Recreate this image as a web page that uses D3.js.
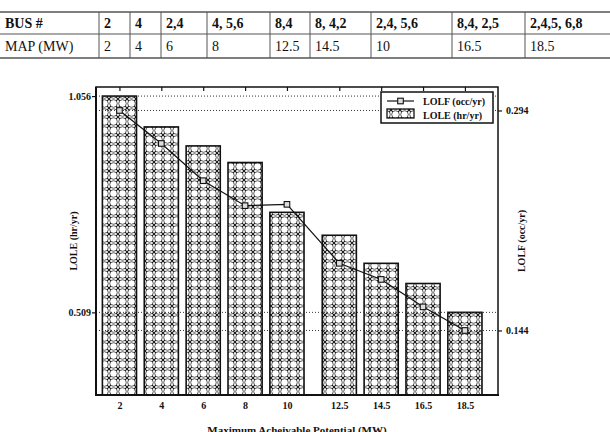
<!DOCTYPE html>
<meta charset="utf-8">
<style>
    html, body {
        margin: 0;
        background: white;
    }
    svg text {
        font-family: "Liberation Serif", "Times New Roman", serif;
    }
</style>
<div id="container"></div>
<script src="https://cdnjs.cloudflare.com/ajax/libs/d3/7.8.5/d3.min.js"></script>
<script>
    // table rows
    var busRow = ["BUS #", "2", "4", "2,4", "4, 5,6", "8,4", "8, 4,2", "2,4, 5,6", "8,4, 2,5", "2,4,5, 6,8"];
    var mapRow = ["MAP (MW)", "2", "4", "6", "8", "12.5", "14.5", "10", "16.5", "18.5"];

    // chart data
    var potential = [2, 4, 6, 8, 10, 12.5, 14.5, 16.5, 18.5];
    var lole = [1.056, 0.978, 0.930, 0.888, 0.762, 0.704, 0.633, 0.582, 0.509];
    var lolf = [0.294, 0.2715, 0.2461, 0.2291, 0.2300, 0.1898, 0.1788, 0.1601, 0.144];
    var loleTicks = [0.509, 1.056];
    var lolfTicks = [0.144, 0.294];

    var W = 610, H = 432;
    var svg = d3.select("#container").append("svg")
        .attr("width", W)
        .attr("height", H);

    // ---- table ----
    var colEdges = [0, 99, 130, 161, 207, 270, 310, 371, 452, 525, 610];
    var rowY = [12, 34, 58];
    var table = svg.append("g");

    table.selectAll("line.h")
        .data(rowY)
        .enter().append("line")
        .attr("x1", 0).attr("x2", W)
        .attr("y1", function(d) { return d; })
        .attr("y2", function(d) { return d; })
        .attr("stroke", "#555")
        .attr("stroke-width", function(d, i) { return i === 1 ? 1 : 1.6; });

    table.selectAll("line.v")
        .data(colEdges.slice(1, -1))
        .enter().append("line")
        .attr("x1", function(d) { return d; })
        .attr("x2", function(d) { return d; })
        .attr("y1", rowY[0]).attr("y2", rowY[2])
        .attr("stroke", "#555")
        .attr("stroke-width", 1);

    function cellText(row, y, bold) {
        table.selectAll(null)
            .data(row)
            .enter().append("text")
            .attr("x", function(d, i) { return colEdges[i] + 5; })
            .attr("y", y)
            .attr("font-size", 14)
            .attr("font-weight", bold ? "bold" : "normal")
            .attr("fill", "#111")
            .text(function(d) { return d; });
    }
    cellText(busRow, 28, true);
    cellText(mapRow, 51, false);

    // ---- chart ----
    var plotL = 96, plotR = 498, plotT = 87, plotB = 395;

    var x = d3.scaleLinear().domain([0.88, 20.08]).range([plotL, plotR]);
    var yL = d3.scaleLinear().domain([0.3, 1.079]).range([plotB, plotT]);
    var yR = d3.scaleLinear().domain([0.1, 0.31]).range([plotB, plotT]);

    // pattern: open circles with small dark crosses between them
    var defs = svg.append("defs");
    var pat = defs.append("pattern")
        .attr("id", "circ")
        .attr("patternUnits", "userSpaceOnUse")
        .attr("width", 9).attr("height", 9)
        .attr("x", 1).attr("y", 0);
    pat.append("rect").attr("width", 9).attr("height", 9).attr("fill", "white");
    pat.append("circle")
        .attr("cx", 4.5).attr("cy", 4.5).attr("r", 3.8)
        .attr("fill", "none")
        .attr("stroke", "#444")
        .attr("stroke-width", 0.9);
    pat.append("path")
        .attr("d", "M0,0L1.8,1.8M9,0L7.2,1.8M0,9L1.8,7.2M9,9L7.2,7.2")
        .attr("stroke", "#111")
        .attr("stroke-width", 1.1);

    var barW = x(1.63) - x(0);

    svg.append("g")
        .selectAll("rect")
        .data(potential)
        .enter().append("rect")
        .attr("x", function(d) { return x(d) - barW / 2; })
        .attr("y", function(d, i) { return yL(lole[i]); })
        .attr("width", barW)
        .attr("height", function(d, i) { return plotB - yL(lole[i]); })
        .attr("fill", "url(#circ)")
        .attr("stroke", "#111")
        .attr("stroke-width", 1.6);

    // dotted reference lines
    var grid = svg.append("g")
        .attr("stroke", "#333")
        .attr("stroke-width", 1)
        .attr("stroke-dasharray", "1,2");
    grid.selectAll(null)
        .data(loleTicks)
        .enter().append("line")
        .attr("x1", plotL).attr("x2", plotR)
        .attr("y1", function(d) { return yL(d); })
        .attr("y2", function(d) { return yL(d); });
    grid.selectAll(null)
        .data(lolfTicks)
        .enter().append("line")
        .attr("x1", plotL).attr("x2", plotR)
        .attr("y1", function(d) { return yR(d); })
        .attr("y2", function(d) { return yR(d); });

    // LOLF line
    var line = d3.line()
        .x(function(d) { return x(d); })
        .y(function(d, i) { return yR(lolf[i]); });
    svg.append("path")
        .datum(potential)
        .attr("d", line)
        .attr("fill", "none")
        .attr("stroke", "#111")
        .attr("stroke-width", 1.2);
    svg.append("g")
        .selectAll("rect")
        .data(potential)
        .enter().append("rect")
        .attr("x", function(d) { return x(d) - 2.8; })
        .attr("y", function(d, i) { return yR(lolf[i]) - 2.8; })
        .attr("width", 5.6).attr("height", 5.6)
        .attr("fill", "#ddd")
        .attr("stroke", "#111")
        .attr("stroke-width", 1.1);

    // frame
    svg.append("rect")
        .attr("x", plotL).attr("y", plotT)
        .attr("width", plotR - plotL).attr("height", plotB - plotT)
        .attr("fill", "none")
        .attr("stroke", "#111")
        .attr("stroke-width", 1.5);

    // axes
    function styleAxis(g) {
        g.select(".domain").remove();
        g.selectAll(".tick line").attr("stroke", "#111").attr("stroke-width", 1.2);
        g.selectAll(".tick text")
            .attr("font-family", "Liberation Serif, serif")
            .attr("font-weight", "bold")
            .attr("font-size", 10)
            .attr("fill", "#111");
    }

    svg.append("g")
        .attr("transform", "translate(0," + plotB + ")")
        .call(d3.axisBottom(x).tickValues(potential).tickSize(0).tickPadding(7)
            .tickFormat(function(d) { return d; }))
        .call(styleAxis);
    svg.append("g")
        .attr("transform", "translate(0," + plotT + ")")
        .call(d3.axisTop(x).tickValues(potential).tickSize(-4).tickFormat(""))
        .call(styleAxis);
    svg.append("g")
        .attr("transform", "translate(" + plotL + ",0)")
        .call(d3.axisLeft(yL).tickValues(loleTicks).tickSize(4).tickPadding(1)
            .tickFormat(d3.format(".3f")))
        .call(styleAxis);
    svg.append("g")
        .attr("transform", "translate(" + plotR + ",0)")
        .call(d3.axisRight(yR).tickValues(lolfTicks).tickSize(4).tickPadding(4)
            .tickFormat(d3.format(".3f")))
        .call(styleAxis);

    // thicker bottom and left axis lines
    svg.append("line")
        .attr("x1", plotL - 1).attr("x2", plotR + 1)
        .attr("y1", plotB).attr("y2", plotB)
        .attr("stroke", "#111").attr("stroke-width", 2.2);
    svg.append("line")
        .attr("x1", plotL).attr("x2", plotL)
        .attr("y1", plotT).attr("y2", plotB)
        .attr("stroke", "#111").attr("stroke-width", 2);

    // axis titles
    svg.append("text")
        .attr("transform", "translate(77," + ((plotT + plotB) / 2) + ") rotate(-90)")
        .attr("text-anchor", "middle")
        .attr("font-weight", "bold")
        .attr("font-size", 10)
        .attr("fill", "#111")
        .text("LOLE (hr/yr)");
    svg.append("text")
        .attr("transform", "translate(525," + ((plotT + plotB) / 2) + ") rotate(-90)")
        .attr("text-anchor", "middle")
        .attr("font-weight", "bold")
        .attr("font-size", 10)
        .attr("fill", "#111")
        .text("LOLF (occ/yr)");
    svg.append("text")
        .attr("x", (plotL + plotR) / 2)
        .attr("y", 434)
        .attr("text-anchor", "middle")
        .attr("font-weight", "bold")
        .attr("font-size", 11)
        .attr("fill", "#111")
        .text("Maximum Acheivable Potential (MW)");

    // legend
    var lg = svg.append("g").attr("transform", "translate(381,92)");
    lg.append("rect")
        .attr("width", 112).attr("height", 31)
        .attr("fill", "white")
        .attr("stroke", "#111")
        .attr("stroke-width", 1.5);
    lg.append("line")
        .attr("x1", 6).attr("x2", 33)
        .attr("y1", 9).attr("y2", 9)
        .attr("stroke", "#111").attr("stroke-width", 1.2);
    lg.append("rect")
        .attr("x", 16.7).attr("y", 6.2)
        .attr("width", 5.6).attr("height", 5.6)
        .attr("fill", "#ddd").attr("stroke", "#111").attr("stroke-width", 1.1);
    lg.append("rect")
        .attr("x", 6).attr("y", 17)
        .attr("width", 27).attr("height", 9)
        .attr("fill", "url(#circ)")
        .attr("stroke", "#111").attr("stroke-width", 1.3);
    lg.selectAll(null)
        .data(["LOLF (occ/yr)", "LOLE (hr/yr)"])
        .enter().append("text")
        .attr("x", 42)
        .attr("y", function(d, i) { return 12.5 + i * 14; })
        .attr("font-weight", "bold")
        .attr("font-size", 10)
        .attr("fill", "#111")
        .text(function(d) { return d; });
</script>
